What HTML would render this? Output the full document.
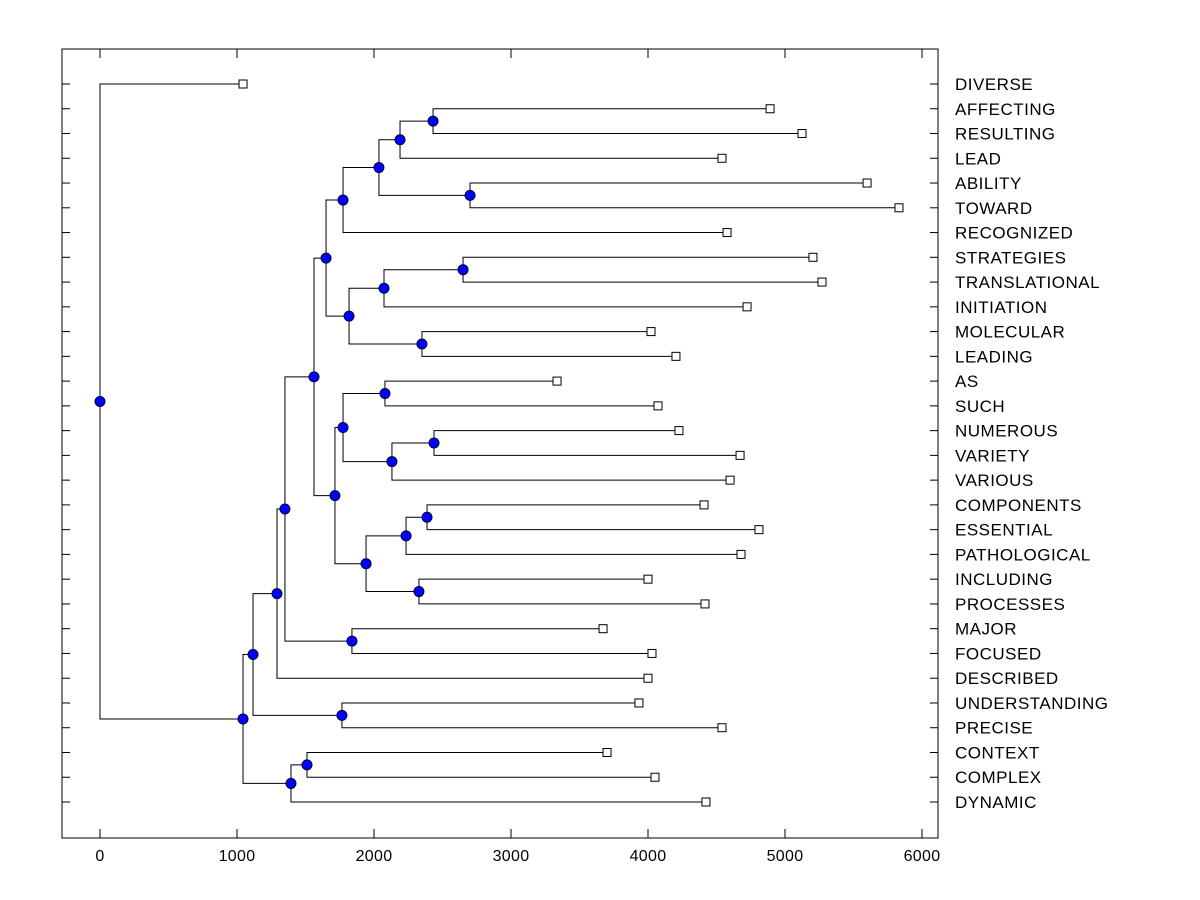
<!DOCTYPE html>
<html><head><meta charset="utf-8"><style>
html,body{margin:0;padding:0;background:#fff;}
svg{display:block;font-family:"Liberation Sans",Arial,sans-serif;}
</style></head><body>
<svg id="chart" width="1200" height="900" viewBox="0 0 1200 900">
<rect x="62" y="49" width="876" height="789" fill="none" stroke="#000" stroke-width="1"/>
<g id="ticks"></g>
<g id="links"></g>
<g id="marks"></g>
<g id="labels"></g>
</svg>
<script>
const leafNames = ["DIVERSE","AFFECTING","RESULTING","LEAD","ABILITY","TOWARD","RECOGNIZED","STRATEGIES","TRANSLATIONAL","INITIATION","MOLECULAR","LEADING","AS","SUCH","NUMEROUS","VARIETY","VARIOUS","COMPONENTS","ESSENTIAL","PATHOLOGICAL","INCLUDING","PROCESSES","MAJOR","FOCUSED","DESCRIBED","UNDERSTANDING","PRECISE","CONTEXT","COMPLEX","DYNAMIC"];
const leafValues = [1044,4891,5124,4540,5599,5832,4577,5204,5270,4723,4022,4204,3336,4073,4226,4672,4599,4409,4810,4679,4000,4416,3672,4029,4000,3934,4540,3701,4051,4423];
// internal nodes: [childA, childB, value]; children are leaf indices (numbers) or node keys (strings)
const nodeQ = [1,2,2431];
const nodeO = ["Q",3,2190];
const nodeP = [4,5,2701];
const nodeN = ["O","P",2036];
const nodeL = ["N",6,1774];
const nodeT = [7,8,2650];
const nodeR = ["T",9,2073];
const nodeS = [10,11,2350];
const nodeM = ["R","S",1818];
const nodeJ = ["L","M",1650];
const nodeW = [12,13,2080];
const nodeY = [14,15,2438];
const nodeX = ["Y",16,2131];
const nodeU = ["W","X",1774];
const nodeAB = [17,18,2387];
const nodeZ = ["AB",19,2234];
const nodeAA = [20,21,2328];
const nodeV = ["Z","AA",1942];
const nodeK = ["U","V",1715];
const nodeH = ["J","K",1562];
const nodeI = [22,23,1839];
const nodeG = ["H","I",1350];
const nodeE = ["G",24,1292];
const nodeF = [25,26,1766];
const nodeB = ["E","F",1117];
const nodeD = [27,28,1511];
const nodeC = ["D",29,1394];
const nodeA = ["B","C",1044];
const nodeRoot = [0,"A",0];
const xTicks = [0,1000,2000,3000,4000,5000,6000];

const nodes = {Q:nodeQ,O:nodeO,P:nodeP,N:nodeN,L:nodeL,T:nodeT,R:nodeR,S:nodeS,M:nodeM,J:nodeJ,W:nodeW,Y:nodeY,X:nodeX,U:nodeU,AB:nodeAB,Z:nodeZ,AA:nodeAA,V:nodeV,K:nodeK,H:nodeH,I:nodeI,G:nodeG,E:nodeE,F:nodeF,B:nodeB,D:nodeD,C:nodeC,A:nodeA,ROOT:nodeRoot};

const NS="http://www.w3.org/2000/svg";
const xs = v => 100 + v*0.137;
const ys = i => 84 + i*(718/29);
function mk(tag, attrs, parent){const e=document.createElementNS(NS,tag);for(const k in attrs)e.setAttribute(k,attrs[k]);parent.appendChild(e);return e;}
const gT=document.getElementById('ticks'),gL=document.getElementById('links'),gM=document.getElementById('marks'),gLab=document.getElementById('labels');

xTicks.forEach(t=>{
  const x=xs(t);
  let e=mk('line',{x1:x,x2:x,y1:838,y2:829,stroke:'#000'},gT);
  
  
  e=mk('line',{x1:x,x2:x,y1:49,y2:58,stroke:'#000'},gT);
  
  
  e=mk('text',{x:x,y:861,'text-anchor':'middle','font-size':'16','letter-spacing':'0.3'},gT);
  e.textContent=t;
  
  
});
leafNames.forEach((n,i)=>{
  const y=ys(i);
  let e=mk('line',{x1:62,x2:70,y1:y,y2:y,stroke:'#000'},gT);
  
  
  e=mk('line',{x1:930,x2:938,y1:y,y2:y,stroke:'#000'},gT);
  
  
  e=mk('text',{x:955,y:y+6,'font-size':'17','letter-spacing':'0.5'},gLab);
  e.textContent=n;
  
  
});

const dots=[];
function pos(c){
  if(typeof c==='number') return {x:xs(leafValues[c]),y:ys(c),leaf:true,i:c};
  const nd=nodes[c];
  const a=pos(nd[0]),b=pos(nd[1]);
  const x=xs(nd[2]);
  const y=(a.y+b.y)/2;
  let e=mk('polyline',{points:`${a.x},${a.y} ${x},${a.y} ${x},${b.y} ${b.x},${b.y}`,fill:'none',stroke:'#000','stroke-width':1},gL);
  
  
  [a,b].forEach(p=>{
    if(p.leaf){
      const r=mk('rect',{x:p.x-4,y:p.y-4,width:8,height:8,fill:'#fff',stroke:'#000'},gM);
      
      
    }
  });
  dots.push({x,y,c});
  return {x,y,leaf:false};
}
pos('ROOT');
dots.forEach(d=>{
  const e=mk('circle',{cx:d.x,cy:d.y,r:5,fill:'#0000ff',stroke:'#000033','stroke-width':1},gM);
  
  
});
</script>
</body></html>
